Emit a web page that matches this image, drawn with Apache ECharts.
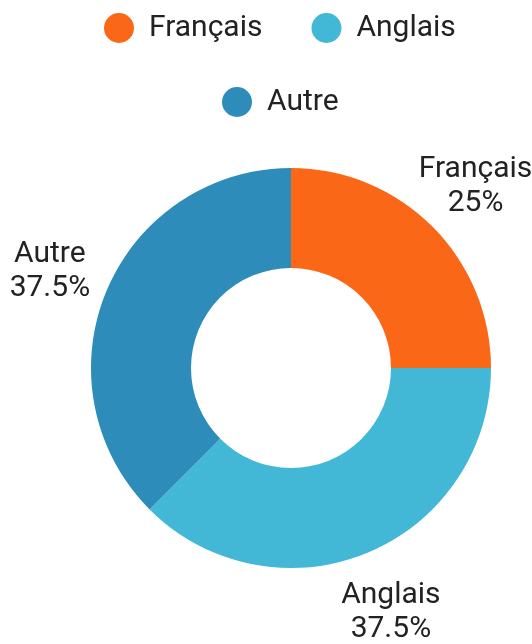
<!DOCTYPE html>
<html>
<head>
<meta charset="utf-8">
<script src="https://cdn.jsdelivr.net/npm/echarts@6/dist/echarts.min.js"></script>
<style>
  html, body { margin: 0; padding: 0; background: #fff; }
  #chart { width: 532px; height: 644px; }
</style>
</head>
<body>
<div id="chart"></div>
<script>
// Language share data
const languages = ['Français', 'Anglais', 'Autre'];
const shares = [25, 37.5, 37.5];
const colors = ['#FA6817', '#42B8D6', '#2E8CBB'];

const pieData = languages.map((name, i) => ({
  name: name,
  value: shares[i],
  itemStyle: { color: colors[i] }
}));

const chart = echarts.init(document.getElementById('chart'));

const legendBase = {
  icon: 'circle',
  itemWidth: 50,
  itemHeight: 30,
  itemGap: 49,
  selectedMode: false,
  textStyle: { fontFamily: 'Roboto', fontSize: 30, color: '#222' }
};

chart.setOption({
  animation: false,
  textStyle: { fontFamily: 'Roboto' },
  legend: [
    Object.assign({}, legendBase, { data: languages.slice(0, 2), top: 8, left: 99 }),
    Object.assign({}, legendBase, { data: languages.slice(2), top: 82, left: 217 })
  ],
  series: [
    {
      // the donut itself
      name: 'Langues',
      type: 'pie',
      center: [291, 368],
      radius: [100, 200],
      startAngle: 90,
      clockwise: true,
      label: { show: false },
      labelLine: { show: false },
      data: pieData
    },
    {
      // invisible ring used only to place centered labels outside the donut
      name: 'Labels',
      type: 'pie',
      center: [291, 371],
      radius: [246, 270],
      startAngle: 90,
      clockwise: true,
      silent: true,
      legendHoverLink: false,
      itemStyle: { color: 'transparent' },
      label: {
        show: true,
        position: 'inside',
        formatter: p => p.name + '\n' + p.value + '%',
        fontFamily: 'Roboto',
        fontSize: 30,
        lineHeight: 34,
        color: '#222',
        align: 'center'
      },
      labelLine: { show: false },
      data: languages.map((name, i) => ({ name: name, value: shares[i] }))
    }
  ]
});
</script>
</body>
</html>
